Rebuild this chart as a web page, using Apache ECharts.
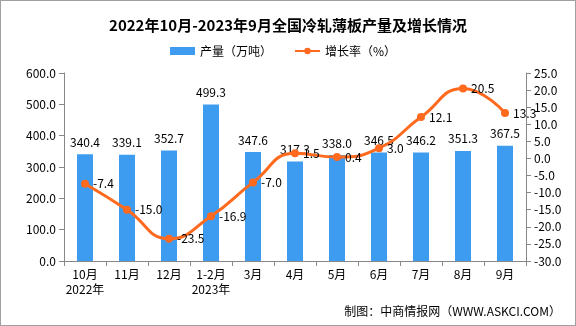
<!DOCTYPE html>
<html>
<head>
<meta charset="utf-8">
<script src="https://cdn.jsdelivr.net/npm/echarts@6/dist/echarts.min.js"></script>
<style>
html,body{margin:0;padding:0;background:#fff;}
#c{width:574px;height:324px;border:1px solid #a0a0a0;}
</style>
</head>
<body>
<div id="c"></div>
<script>
var categories = ['10月\n2022年','11月','12月','1-2月\n2023年','3月','4月','5月','6月','7月','8月','9月'];
var production = [340.4, 339.1, 352.7, 499.3, 347.6, 317.3, 338.0, 346.5, 346.2, 351.3, 367.5];
var growth = [-7.4, -15.0, -23.5, -16.9, -7.0, 1.5, 0.4, 3.0, 12.1, 20.5, 13.3];

var FONT = '"Noto Sans CJK SC", sans-serif';
var chart = echarts.init(document.getElementById('c'));
chart.setOption({
  animation: false,
  textStyle: {fontFamily: FONT, color: '#000'},
  title: {
    text: '2022年10月-2023年9月全国冷轧薄板产量及增长情况',
    left: 'center', top: 12,
    textStyle: {fontSize: 15, fontWeight: 'bold', color: '#000', fontFamily: FONT}
  },
  legend: {
    left: 164, top: 39,
    itemWidth: 25, itemHeight: 8, itemGap: 22,
    textStyle: {fontSize: 12, color: '#000', fontFamily: FONT},
    data: [{name: '产量（万吨）', icon: 'rect'}, {name: '增长率（%）'}]
  },
  graphic: [{
    type: 'text', right: 14, top: 304,
    style: {text: '制图：中商情报网（WWW.ASKCI.COM）', fontSize: 12, fill: '#000', fontFamily: FONT}
  }],
  grid: {left: 63, right: 49, top: 72, bottom: 64},
  xAxis: {
    type: 'category', data: categories,
    axisLine: {lineStyle: {color: '#888'}},
    axisTick: {show: true, alignWithLabel: false, lineStyle: {color: '#888'}},
    axisLabel: {color: '#000', fontSize: 12, lineHeight: 15, margin: 6, interval: 0}
  },
  yAxis: [{
    type: 'value', min: 0, max: 600, interval: 100,
    axisLine: {show: true, lineStyle: {color: '#888'}},
    axisTick: {show: true, lineStyle: {color: '#888'}},
    splitLine: {show: false},
    axisLabel: {color: '#000', fontSize: 12, formatter: function(v){return v.toFixed(1);}}
  }, {
    type: 'value', min: -30, max: 25, interval: 5,
    axisLine: {show: true, lineStyle: {color: '#888'}},
    axisTick: {show: true, lineStyle: {color: '#888'}},
    splitLine: {show: false},
    axisLabel: {color: '#000', fontSize: 12, formatter: function(v){return v.toFixed(1);}}
  }],
  series: [{
    name: '产量（万吨）', type: 'bar', data: production, barWidth: 16,
    itemStyle: {color: '#3E9CF0'},
    label: {show: true, position: 'top', distance: 6, color: '#000', fontSize: 12,
      formatter: function(p){return p.value.toFixed(1);}}
  }, {
    name: '增长率（%）', type: 'line', yAxisIndex: 1, data: growth, smooth: true,
    symbol: 'circle', symbolSize: 8,
    lineStyle: {color: '#FF6A1F', width: 3},
    itemStyle: {color: '#FF6A1F'},
    label: {show: true, position: 'right', distance: 4, color: '#000', fontSize: 12,
      formatter: function(p){return p.value.toFixed(1);}}
  }]
});
</script>
</body>
</html>
